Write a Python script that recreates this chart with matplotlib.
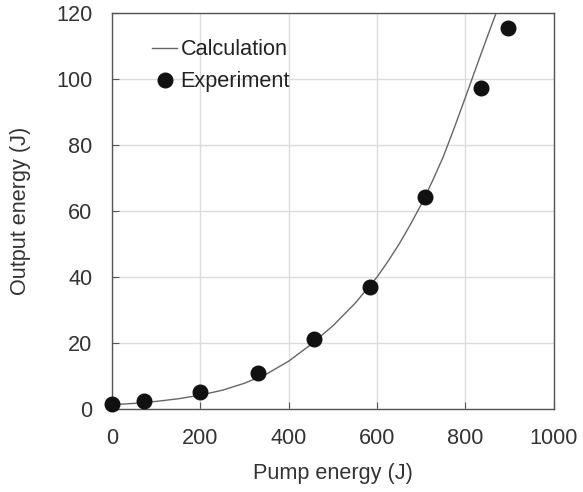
import numpy as np
import matplotlib
matplotlib.use("Agg")
import matplotlib.pyplot as plt

plt.rcParams['font.family'] = ['Liberation Sans', 'DejaVu Sans']

# Experimental points
pump_exp = [0, 72, 200, 330, 458, 585, 709, 835, 896]
out_exp = [1.5, 2.4, 5.0, 10.8, 21.1, 36.9, 64.3, 97.2, 115.5]

# Calculated curve
pump_calc = [0, 50, 100, 150, 200, 250, 300, 350, 400, 450, 500, 550, 600,
             625, 650, 675, 700, 725, 750, 775, 800, 825, 850, 880]
out_calc = [1.3, 1.7, 2.3, 3.1, 4.2, 5.7, 7.8, 10.6, 14.5, 19.5, 25.2, 32.0,
            40.0, 44.8, 50.0, 55.8, 62.0, 69.0, 76.5, 85.3, 94.5, 103.8,
            113.0, 123.8]

txt = '#333333'
fs = 15.6

fig = plt.figure(figsize=(5.83, 4.92), dpi=100)
ax = fig.add_axes([0.192, 0.1687, 0.758, 0.805])

ax.plot(pump_calc, out_calc, color='#666666', lw=1.0, label='Calculation')
ax.plot(pump_exp, out_exp, 'o', color='#111111', ms=10.5, ls='none',
        label='Experiment', clip_on=False, zorder=5)

ax.set_xlim(0, 1000)
ax.set_ylim(0, 120)
ax.set_xticks(np.arange(0, 1001, 200))
ax.set_yticks(np.arange(0, 121, 20))
ax.grid(True, color='#dcdcdc', lw=1.0)
ax.set_axisbelow(True)

for s in ax.spines.values():
    s.set_color('#555555')
    s.set_linewidth(1.0)

ax.tick_params(direction='in', length=5, color='#555555', labelsize=fs,
               labelcolor=txt, pad=14)
ax.set_xlabel('Pump energy (J)', fontsize=fs, color=txt, labelpad=10)
ax.set_ylabel('Output energy (J)', fontsize=fs, color=txt, labelpad=18)

leg = ax.legend(loc='upper left', frameon=False, fontsize=fs, handlelength=1.15,
                handletextpad=0.15, borderaxespad=0.0, labelspacing=0.5,
                labelcolor='#222222', bbox_to_anchor=(0.072, 0.955))

fig.savefig('out.png', dpi=100)
